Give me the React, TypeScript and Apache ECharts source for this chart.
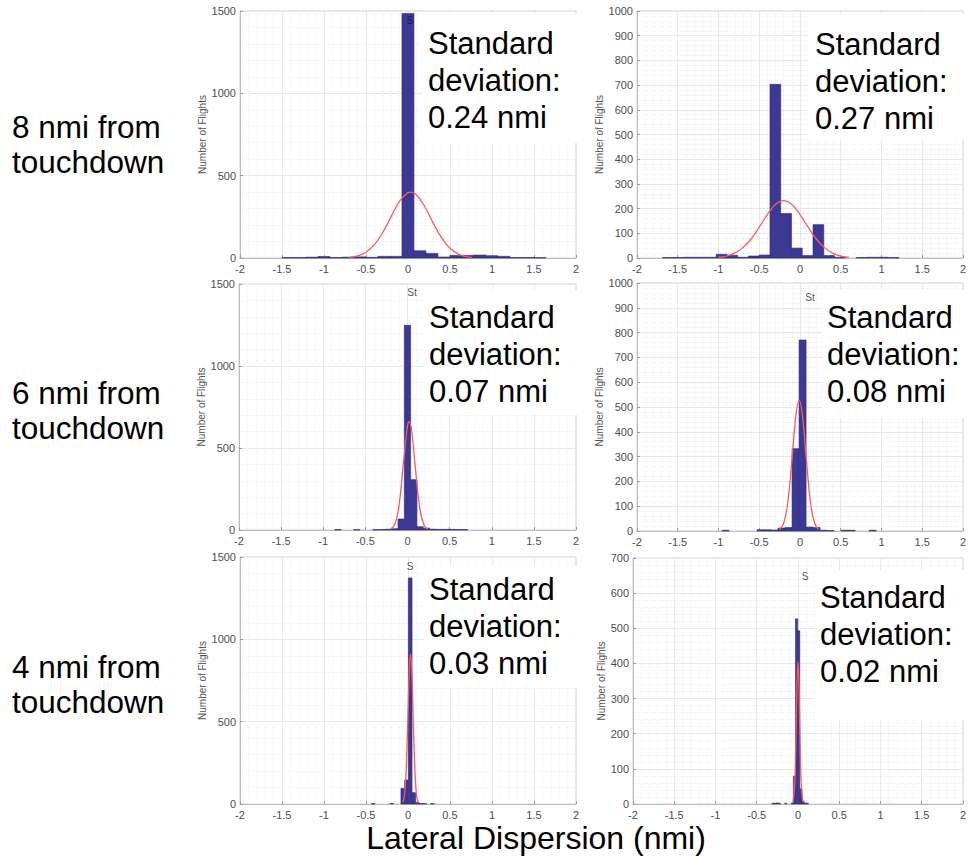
import React, { useEffect, useRef } from "react";
import * as echarts from "echarts";

const FONT = "'Liberation Sans', Arial, Helvetica, sans-serif";

// Row captions (distance from touchdown) and per-panel standard deviations
const rowCaptions = ["8 nmi from\ntouchdown", "6 nmi from\ntouchdown", "4 nmi from\ntouchdown"];
const stdDevTexts = ["0.24 nmi", "0.27 nmi", "0.07 nmi", "0.08 nmi", "0.03 nmi", "0.02 nmi"];
const xAxisTitle = "Lateral Dispersion (nmi)";
const yAxisTitle = "Number of Flights";

// Histogram binning: first bin edge and bin width (nmi)
const bins8A = { start: -1.5, width: 0.1428 };
const bins8B = { start: -1.688, width: 0.132 };
const bins6A = { start: -0.863, width: 0.075 };
const bins6B = { start: -0.957, width: 0.086 };
const bins4A = { start: -0.436, width: 0.044 };
const bins4B = { start: -0.316, width: 0.026 };

// Flight counts per bin
const counts8A = [3, 3, 5, 9, 3, 5, 7, 4, 10, 10, 1485, 44, 28, 6, 16, 16, 18, 14, 10, 3, 3, 2];
const counts8B = [2, 2, 3, 3, 3, 15, 11, 3, 8, 12, 703, 180, 40, 10, 135, 10, 3, 0, 2, 3, 3, 2];
const counts6A = [3, 0, 0, 2, 0, 0, 2, 3, 5, 8, 67, 1248, 307, 20, 12, 5, 4, 4, 4, 3, 3];
const counts6B = [3, 0, 0, 0, 0, 5, 5, 4, 12, 14, 332, 770, 16, 14, 3, 2, 0, 3, 3, 0, 0, 3];
const counts4A = [2, 0, 0, 0, 0, 3, 0, 0, 95, 146, 1373, 69, 8, 3, 2, 0, 2];
const counts4B = [2, 2, 3, 2, 0, 0, 2, 0, 0, 3, 79, 527, 493, 43, 8, 3, 2];

// Fitted normal curves, sampled as [x, count]
const fit8A = [[-0.7, 4], [-0.6, 13], [-0.5, 35], [-0.4, 81], [-0.3, 155], [-0.2, 253], [-0.1, 345], [0, 397], [0.03, 400], [0.1, 384], [0.2, 311], [0.3, 212], [0.4, 122], [0.5, 59], [0.6, 24], [0.7, 8], [0.76, 4]];
const fit8B = [[-1.0, 3], [-0.9, 8], [-0.8, 20], [-0.7, 42], [-0.6, 77], [-0.5, 125], [-0.4, 176], [-0.3, 217], [-0.2, 232], [-0.1, 217], [0, 176], [0.1, 125], [0.2, 77], [0.3, 42], [0.4, 20], [0.5, 8], [0.6, 3]];
const fit6A = [[-0.2, 5], [-0.15, 35], [-0.1, 152], [-0.05, 400], [0, 634], [0.02, 660], [0.05, 602], [0.1, 344], [0.15, 118], [0.2, 24], [0.24, 5]];
const fit6B = [[-0.25, 6], [-0.2, 31], [-0.15, 114], [-0.1, 281], [-0.05, 466], [-0.01, 528], [0.03, 466], [0.08, 281], [0.13, 114], [0.18, 31], [0.23, 6]];
const fit4A = [[-0.06, 10], [-0.04, 60], [-0.02, 227], [0, 553], [0.015, 805], [0.03, 912], [0.045, 805], [0.06, 553], [0.08, 227], [0.1, 60], [0.12, 10]];
const fit4B = [[-0.06, 5], [-0.04, 55], [-0.03, 132], [-0.02, 246], [-0.01, 357], [0, 405], [0.01, 357], [0.02, 246], [0.03, 132], [0.04, 55], [0.06, 5]];

// Y-axis ranges
const yMaxes = [1500, 1000, 1500, 1000, 1500, 700];
const ySteps = [500, 100, 500, 100, 500, 100];

const panels = [
  { bins: bins8A, counts: counts8A, fit: fit8A },
  { bins: bins8B, counts: counts8B, fit: fit8B },
  { bins: bins6A, counts: counts6A, fit: fit6A },
  { bins: bins6B, counts: counts6B, fit: fit6B },
  { bins: bins4A, counts: counts4A, fit: fit4A },
  { bins: bins4B, counts: counts4B, fit: fit4B },
];

// Layout of the six plot areas
const gridBoxes = [
  { left: 240, top: 11, width: 336, height: 247 },
  { left: 637, top: 11, width: 336, height: 247 },
  { left: 239, top: 284, width: 337, height: 246 },
  { left: 637, top: 283, width: 337, height: 248 },
  { left: 240, top: 557, width: 336, height: 247 },
  { left: 633, top: 558, width: 335, height: 246 },
];
const yNameGaps = [21, 28, 21, 28, 21, 21];

// White annotation boxes laid over the plots' upper right corners
const noteBoxes = [
  { x: 422, y: 14, w: 170, h: 129 },
  { x: 808, y: 14, w: 161, h: 126 },
  { x: 424, y: 290, w: 166, h: 125 },
  { x: 822, y: 290, w: 147, h: 128 },
  { x: 424, y: 566, w: 166, h: 122 },
  { x: 815, y: 570, w: 154, h: 150 },
];
const notePos = [
  [428, 25], [815, 26], [429, 299], [827, 299], [429, 571], [820, 579],
];
// Clipped title fragments peeking above the bars
const titleStubs = [
  { text: "S", x: 410, y: 20, color: "#1b1b4f" },
  { text: "St", x: 412, y: 292, color: "#555" },
  { text: "St", x: 810, y: 297, color: "#555" },
  { text: "S", x: 410, y: 566, color: "#555" },
  { text: "S", x: 805, y: 576, color: "#555" },
];
const captionPos = [[12, 109], [12, 375], [12, 649]];

export default function App() {
  const ref = useRef<HTMLDivElement>(null);

  useEffect(() => {
    if (!ref.current) return;
    const chart = echarts.init(ref.current, null, { renderer: "svg" });

    const grids = gridBoxes.map((g) => ({
      left: g.left, top: g.top, width: g.width, height: g.height,
      show: true, borderColor: "#d2d2d2", borderWidth: 1, backgroundColor: "transparent",
    }));

    const plain = (v: number) => String(v);

    const xAxes = panels.map((_, i) => ({
      type: "value", gridIndex: i, min: -2, max: 2, interval: 0.5,
      axisLine: { show: true, onZero: false, lineStyle: { color: "#bcbcbc" } },
      axisTick: { show: true, inside: true, length: 3, lineStyle: { color: "#9c9c9c" } },
      axisLabel: { color: "#4d4d4d", fontSize: 11, margin: 5, fontFamily: FONT, formatter: plain },
      splitLine: { show: true, lineStyle: { color: "#e8e8e8", width: 1 } },
      minorTick: { show: false, splitNumber: 5 },
      minorSplitLine: { show: true, lineStyle: { color: "#f0f0f0", type: "dotted" } },
    }));

    const yAxes = panels.map((_, i) => ({
      type: "value", gridIndex: i, min: 0, max: yMaxes[i], interval: ySteps[i],
      name: yAxisTitle, nameLocation: "middle", nameGap: yNameGaps[i],
      nameTextStyle: { color: "#555", fontSize: 10, fontFamily: FONT },
      axisLine: { show: true, onZero: false, lineStyle: { color: "#bcbcbc" } },
      axisTick: { show: true, inside: true, length: 3, lineStyle: { color: "#9c9c9c" } },
      axisLabel: { color: "#4d4d4d", fontSize: 11, margin: 4, fontFamily: FONT, formatter: plain },
      splitLine: { show: true, lineStyle: { color: "#e8e8e8", width: 1 } },
      minorTick: { show: false, splitNumber: 5 },
      minorSplitLine: { show: true, lineStyle: { color: "#f0f0f0", type: "dotted" } },
    }));

    const series: any[] = [];
    panels.forEach((p, i) => {
      series.push({
        type: "custom",
        xAxisIndex: i,
        yAxisIndex: i,
        data: p.counts.map((c, k) => [p.bins.start + k * p.bins.width, p.bins.start + (k + 1) * p.bins.width, c]),
        encode: { x: [0, 1], y: 2 },
        renderItem: (_params: any, api: any) => {
          if (api.value(2) <= 0) return null;
          const top = api.coord([api.value(0), api.value(2)]);
          const bottom = api.coord([api.value(1), 0]);
          return {
            type: "rect",
            shape: { x: top[0], y: top[1], width: bottom[0] - top[0], height: bottom[1] - top[1] },
            style: { fill: "#3b3993", stroke: "#2d2b7d", lineWidth: 0.6 },
          };
        },
        z: 2,
      });
      series.push({
        type: "line",
        xAxisIndex: i,
        yAxisIndex: i,
        data: p.fit,
        smooth: 0.4,
        showSymbol: false,
        symbol: "none",
        lineStyle: { color: "#ff5a5a", width: 1.3 },
        z: 3,
      });
    });

    const graphic: any[] = [];
    titleStubs.forEach((s) => {
      graphic.push({
        type: "text", x: s.x, y: s.y, z: 50,
        style: { text: s.text, fill: s.color, fontSize: 10, fontFamily: FONT, align: "center", verticalAlign: "middle" },
      });
    });
    noteBoxes.forEach((b) => {
      graphic.push({ type: "rect", shape: { x: b.x, y: b.y, width: b.w, height: b.h }, style: { fill: "#ffffff" }, z: 100 });
    });
    stdDevTexts.forEach((t, i) => {
      graphic.push({
        type: "text", x: notePos[i][0], y: notePos[i][1], z: 101,
        style: { text: "Standard\ndeviation:\n" + t, fill: "#000", fontSize: 31, lineHeight: 37, fontFamily: FONT, verticalAlign: "top" },
      });
    });
    rowCaptions.forEach((t, i) => {
      graphic.push({
        type: "text", x: captionPos[i][0], y: captionPos[i][1], z: 101,
        style: { text: t, fill: "#000", fontSize: 31.5, lineHeight: 35, fontFamily: FONT, verticalAlign: "top" },
      });
    });
    graphic.push({
      type: "text", x: 536, y: 822, z: 101,
      style: { text: xAxisTitle, fill: "#000", fontSize: 32, fontFamily: FONT, align: "center", verticalAlign: "top" },
    });

    chart.setOption({
      animation: false,
      backgroundColor: "#ffffff",
      grid: grids,
      xAxis: xAxes,
      yAxis: yAxes,
      series,
      graphic,
    });

    return () => chart.dispose();
  }, []);

  return <div ref={ref} style={{ position: "absolute", left: 0, top: 0, width: 969, height: 857 }} />;
}
